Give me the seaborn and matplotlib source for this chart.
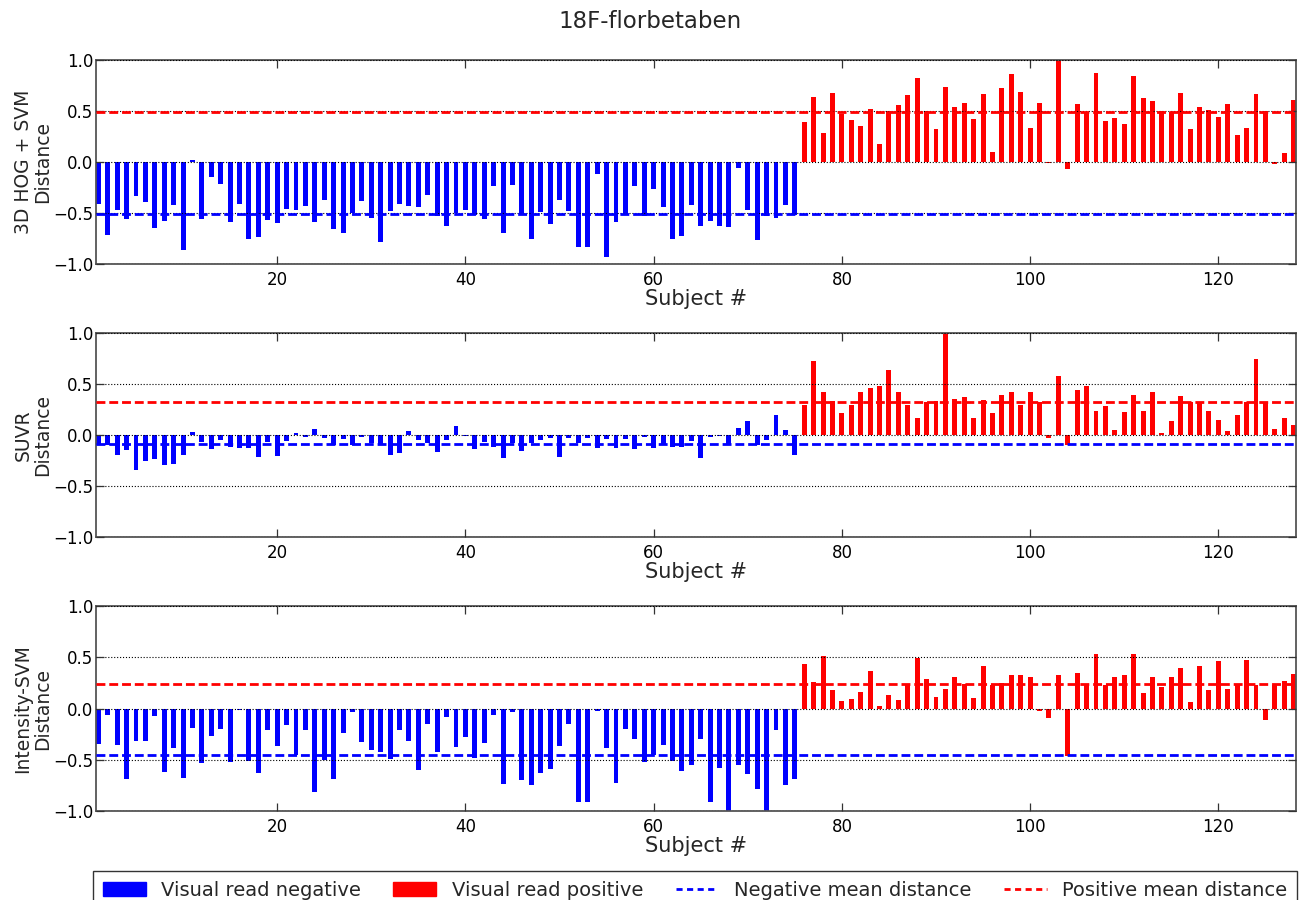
import numpy as np
import pandas as pd
import matplotlib
matplotlib.use("Agg")
import matplotlib.pyplot as plt
import seaborn as sns
from matplotlib.patches import Patch
from matplotlib.lines import Line2D

# ---- data -------------------------------------------------------------
subjects = list(range(1, 129))
n_negative = 75  # subjects 1..75 are visual-read negative, 76..128 positive

hog_svm = [
    -0.41, -0.72, -0.47, -0.56, -0.33, -0.39, -0.65, -0.58, -0.42, -0.86,
    0.02, -0.56, -0.15, -0.22, -0.59, -0.41, -0.75, -0.74, -0.57, -0.60,
    -0.46, -0.47, -0.43, -0.59, -0.37, -0.66, -0.70, -0.50, -0.38, -0.55,
    -0.78, -0.48, -0.41, -0.43, -0.44, -0.32, -0.53, -0.63, -0.50, -0.47,
    -0.52, -0.56, -0.24, -0.70, -0.23, -0.52, -0.75, -0.49, -0.61, -0.37,
    -0.48, -0.83, -0.83, -0.12, -0.93, -0.59, -0.52, -0.24, -0.53, -0.26,
    -0.44, -0.75, -0.73, -0.42, -0.63, -0.58, -0.63, -0.64, -0.06, -0.47,
    -0.76, -0.53, -0.55, -0.42, -0.52,
    0.39, 0.64, 0.28, 0.68, 0.47, 0.41, 0.35, 0.52, 0.18, 0.50,
    0.56, 0.66, 0.82, 0.50, 0.32, 0.74, 0.54, 0.58, 0.42, 0.67,
    0.10, 0.73, 0.86, 0.69, 0.33, 0.58, -0.01, 1.00, -0.07, 0.57,
    0.49, 0.87, 0.40, 0.43, 0.37, 0.84, 0.63, 0.60, 0.50, 0.49,
    0.68, 0.32, 0.54, 0.51, 0.44, 0.57, 0.26, 0.33, 0.67, 0.50,
    -0.02, 0.09, 0.61,
]

suvr = [
    -0.10, -0.10, -0.20, -0.15, -0.34, -0.25, -0.24, -0.29, -0.28, -0.20,
    0.03, -0.07, -0.14, -0.05, -0.12, -0.13, -0.13, -0.22, -0.07, -0.21,
    -0.06, 0.02, -0.02, 0.06, -0.03, -0.10, -0.04, -0.10, -0.02, -0.08,
    -0.10, -0.20, -0.18, 0.04, -0.05, -0.08, -0.17, -0.05, 0.09, -0.01,
    -0.14, -0.07, -0.12, -0.23, -0.08, -0.16, -0.08, -0.05, -0.03, -0.22,
    -0.03, -0.08, -0.03, -0.13, -0.04, -0.13, -0.04, -0.14, -0.02, -0.13,
    -0.10, -0.12, -0.12, -0.06, -0.23, -0.02, -0.01, -0.10, 0.07, 0.14,
    -0.10, -0.05, 0.20, 0.05, -0.20,
    0.29, 0.73, 0.42, 0.33, 0.22, 0.29, 0.42, 0.46, 0.48, 0.64,
    0.42, 0.29, 0.17, 0.32, 0.33, 1.00, 0.35, 0.37, 0.17, 0.34,
    0.22, 0.39, 0.42, 0.29, 0.42, 0.32, -0.03, 0.58, -0.10, 0.44,
    0.48, 0.24, 0.28, 0.05, 0.23, 0.39, 0.24, 0.42, 0.02, 0.14,
    0.38, 0.32, 0.32, 0.24, 0.15, 0.04, 0.20, 0.32, 0.75, 0.32,
    0.06, 0.17, 0.10,
]

intensity_svm = [
    -0.35, -0.06, -0.36, -0.69, -0.32, -0.32, -0.07, -0.62, -0.39, -0.68,
    -0.19, -0.53, -0.27, -0.20, -0.52, -0.01, -0.51, -0.63, -0.21, -0.37,
    -0.16, -0.45, -0.21, -0.81, -0.50, -0.69, -0.24, -0.03, -0.33, -0.40,
    -0.42, -0.49, -0.21, -0.32, -0.60, -0.15, -0.42, -0.08, -0.38, -0.28,
    -0.48, -0.34, -0.06, -0.74, -0.03, -0.70, -0.75, -0.63, -0.59, -0.37,
    -0.15, -0.91, -0.91, -0.02, -0.39, -0.73, -0.20, -0.30, -0.52, -0.45,
    -0.36, -0.51, -0.61, -0.55, -0.30, -0.91, -0.58, -1.00, -0.55, -0.64,
    -0.79, -1.00, -0.21, -0.75, -0.69,
    0.43, 0.26, 0.51, 0.18, 0.07, 0.09, 0.16, 0.37, 0.02, 0.13,
    0.08, 0.23, 0.49, 0.29, 0.11, 0.19, 0.31, 0.24, 0.10, 0.41,
    0.23, 0.25, 0.33, 0.33, 0.31, -0.02, -0.09, 0.33, -0.46, 0.35,
    0.23, 0.53, 0.23, 0.31, 0.33, 0.53, 0.15, 0.31, 0.21, 0.31,
    0.40, 0.06, 0.41, 0.18, 0.46, 0.19, 0.23, 0.47, 0.23, -0.11,
    0.23, 0.27, 0.34,
]

panel_labels = ["3D HOG + SVM\nDistance", "SUVR\nDistance", "Intensity-SVM\nDistance"]
negative_mean = [-0.51, -0.09, -0.45]
positive_mean = [0.49, 0.32, 0.235]
group_names = ["Visual read negative", "Visual read positive"]
mean_names = ["Negative mean distance", "Positive mean distance"]
x_ticks = [20, 40, 60, 80, 100, 120]
y_ticks = [-1.0, -0.5, 0.0, 0.5, 1.0]

# ---- style ------------------------------------------------------------
sns.set_theme(style="white")
plt.rcParams["font.family"] = ["DejaVu Sans"]
plt.rcParams["axes.unicode_minus"] = True

NEG_COLOR = "#0000ff"
POS_COLOR = "#ff0000"
palette = {group_names[0]: NEG_COLOR, group_names[1]: POS_COLOR}

fig = plt.figure(figsize=(13.01, 9.0), dpi=100)

# axes rectangles in figure coordinates (left, bottom, width, height)
left, width = 96 / 1301, 1200 / 1301
rects = [
    (left, 1 - 264 / 900, width, 204 / 900),
    (left, 1 - 537 / 900, width, 204 / 900),
    (left, 1 - 811 / 900, width, 205 / 900),
]

series = [hog_svm, suvr, intensity_svm]
groups = [group_names[0] if s <= n_negative else group_names[1] for s in subjects]

axes = []
for rect, values, label, nmean, pmean in zip(rects, series, panel_labels,
                                             negative_mean, positive_mean):
    ax = fig.add_axes(rect)
    df = pd.DataFrame({"subject": subjects, "distance": values, "read": groups})
    sns.barplot(data=df, x="subject", y="distance", hue="read",
                palette=palette, native_scale=True, width=0.52, dodge=False,
                saturation=1, linewidth=0, errorbar=None, legend=False, ax=ax)

    ax.axhline(nmean, color=NEG_COLOR, linestyle="--", linewidth=2,
               dashes=(3.2, 1.4), zorder=3)
    ax.axhline(pmean, color=POS_COLOR, linestyle="--", linewidth=2,
               dashes=(3.2, 1.4), zorder=3)

    ax.set_xlim(0.75, 128.25)
    ax.set_ylim(-1.0, 1.0)
    ax.set_xticks(x_ticks)
    ax.set_yticks(y_ticks)
    ax.set_yticklabels([f"{v:.1f}".replace("-", "\u2212") for v in y_ticks])
    ax.yaxis.grid(True, color="black", linestyle=":", linewidth=0.8)
    ax.xaxis.grid(False)
    ax.set_axisbelow(False)
    ax.tick_params(direction="in", top=True, right=True, bottom=True,
                   left=True, length=6, width=0.9, labelsize=12,
                   colors="#333333", labelcolor="black")
    ax.tick_params(axis="x", pad=5)
    ax.tick_params(axis="y", pad=2)
    for sp in ax.spines.values():
        sp.set_color("#555555")
        sp.set_linewidth(1.3)
    ax.set_xlabel("Subject #", fontsize=15, labelpad=0)
    ax.set_ylabel(label, fontsize=13.5, labelpad=0.5, linespacing=1.05)
    axes.append(ax)

fig.align_ylabels(axes)

fig.suptitle("18F-florbetaben", y=1 - 22 / 900, va="center", fontsize=16.5)

handles = [
    Patch(facecolor=NEG_COLOR, edgecolor=NEG_COLOR),
    Patch(facecolor=POS_COLOR, edgecolor=POS_COLOR),
    Line2D([], [], color=NEG_COLOR, linestyle="--", linewidth=2, dashes=(2.2, 1.6)),
    Line2D([], [], color=POS_COLOR, linestyle="--", linewidth=2, dashes=(2.2, 1.6)),
]
leg = fig.legend(handles, group_names + mean_names, ncol=4, loc="upper left",
                 bbox_to_anchor=(93 / 1301, 1 - 871 / 900, 1204 / 1301, 0),
                 mode="expand", fontsize=14, frameon=True, fancybox=False,
                 borderaxespad=0, handlelength=2.2, handletextpad=0.8,
                 borderpad=0.5)
leg.get_frame().set_edgecolor("black")
leg.get_frame().set_linewidth(1.0)

fig.savefig("out.png", dpi=100)
